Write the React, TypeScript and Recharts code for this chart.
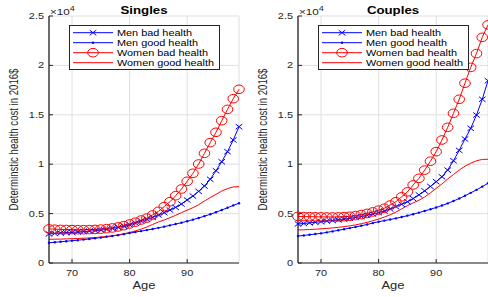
import React from "react";
import { CartesianGrid, Legend, Line, LineChart, XAxis, YAxis } from "recharts";

// ages on the x axis
const AGES = [66, 67, 68, 69, 70, 71, 72, 73, 74, 75, 76, 77, 78, 79, 80, 81, 82, 83, 84, 85, 86, 87, 88, 89, 90, 91, 92, 93, 94, 95, 96, 97, 98, 99];

// Singles, 2016$
const SINGLES_MEN_BAD = [2950, 2990, 3030, 3070, 3100, 3140, 3180, 3220, 3270, 3330, 3400, 3490, 3600, 3720, 3860, 4040, 4250, 4420, 4620, 4860, 5090, 5360, 5630, 5970, 6380, 6780, 7250, 7790, 8470, 9340, 10250, 11270, 12450, 13800];
const SINGLES_MEN_GOOD = [2050, 2100, 2150, 2200, 2260, 2310, 2370, 2430, 2500, 2570, 2650, 2730, 2820, 2920, 3030, 3130, 3230, 3330, 3440, 3560, 3680, 3810, 3940, 4080, 4230, 4390, 4560, 4740, 4930, 5140, 5360, 5590, 5830, 6050];
const SINGLES_WOMEN_BAD = [3450, 3420, 3400, 3390, 3380, 3370, 3370, 3380, 3400, 3430, 3480, 3550, 3650, 3780, 3950, 4130, 4350, 4550, 4860, 5230, 5700, 6200, 6810, 7490, 8270, 9080, 10020, 11100, 12180, 13230, 14400, 15550, 16630, 17580];
const SINGLES_WOMEN_GOOD = [2400, 2410, 2420, 2440, 2460, 2480, 2510, 2540, 2580, 2630, 2690, 2760, 2850, 2960, 3090, 3250, 3430, 3650, 3900, 4150, 4350, 4580, 4830, 5100, 5350, 5600, 5900, 6280, 6620, 6950, 7280, 7530, 7700, 7730];

// Couples, 2016$
const COUPLES_MEN_BAD = [3950, 4000, 4060, 4120, 4180, 4240, 4300, 4370, 4440, 4520, 4610, 4710, 4830, 4960, 5100, 5260, 5470, 5700, 5940, 6200, 6520, 6900, 7300, 7750, 8230, 8730, 9400, 10350, 11400, 12550, 13630, 14980, 16570, 18450];
const COUPLES_MEN_GOOD = [2730, 2790, 2860, 2930, 3000, 3100, 3200, 3310, 3420, 3530, 3650, 3770, 3900, 4040, 4180, 4290, 4400, 4520, 4650, 4790, 4940, 5100, 5270, 5440, 5620, 5820, 6030, 6270, 6530, 6800, 7100, 7400, 7730, 8070];
const COUPLES_WOMEN_BAD = [4720, 4700, 4690, 4680, 4670, 4660, 4660, 4670, 4690, 4730, 4800, 4900, 5020, 5170, 5350, 5540, 5870, 6200, 6700, 7200, 7900, 8570, 9400, 10300, 11270, 12450, 13730, 15150, 16570, 18200, 19800, 21200, 22840, 24100];
const COUPLES_WOMEN_GOOD = [3340, 3360, 3390, 3420, 3460, 3500, 3550, 3610, 3680, 3760, 3860, 3980, 4110, 4270, 4450, 4650, 4880, 5150, 5480, 5800, 6080, 6350, 6680, 7100, 7550, 8000, 8500, 8950, 9400, 9800, 10100, 10350, 10480, 10500];

const X_TICKS = [70, 80, 90];
const Y_TICKS = [0, 5000, 10000, 15000, 20000, 25000];
const SERIES_NAMES = ["Men bad health", "Men good health", "Women bad health", "Women good health"];

const BLUE = "#0000ff";
const RED = "#ff0000";
const INK = "#262626";
const GRID = "#dfdfdf";
const FONT = "'Liberation Sans', Arial, Helvetica, sans-serif";
const SX = 1.3; // the figure is stretched sideways
// legend label widths in px (stretched)
const LEGEND_TEXT_W = [75, 81, 91, 97];

function XTick(props: any) {
  const { x, y, payload } = props;
  return (
    <g>
      <line x1={x} y1={y} x2={x} y2={y - 4} stroke={INK} />
      <text transform={`translate(${x},${y + 12.8}) scale(${SX},1)`} textAnchor="middle" fontSize={8.4} fill={INK} fontFamily={FONT}>
        {payload.value}
      </text>
    </g>
  );
}

function YTick(props: any) {
  const { x, y, payload } = props;
  return (
    <g>
      <line x1={x} y1={y} x2={x + 4} y2={y} stroke={INK} />
      <text transform={`translate(${x - 5},${y + 3}) scale(${SX},1)`} textAnchor="end" fontSize={8.4} fill={INK} fontFamily={FONT}>
        {payload.value / 10000}
      </text>
    </g>
  );
}

function xMark(cx: number, cy: number, key?: any) {
  return (
    <path
      key={key}
      d={`M${cx - 3.3},${cy - 2.6}L${cx + 3.3},${cy + 2.6}M${cx - 3.3},${cy + 2.6}L${cx + 3.3},${cy - 2.6}`}
      stroke={BLUE}
      strokeWidth={1}
      fill="none"
    />
  );
}

function oMark(cx: number, cy: number, key?: any) {
  return <ellipse key={key} cx={cx} cy={cy} rx={5.3} ry={4.3} fill="none" stroke={RED} strokeWidth={1} />;
}

function dotMark(cx: number, cy: number, key?: any) {
  return <circle key={key} cx={cx} cy={cy} r={1.2} fill={BLUE} />;
}

const renderX = (p: any) => (p.cx == null ? <g key={p.index} /> : xMark(p.cx, p.cy, p.index));
const renderO = (p: any) => (p.cx == null ? <g key={p.index} /> : oMark(p.cx, p.cy, p.index));
const renderDot = (p: any) => (p.cx == null ? <g key={p.index} /> : dotMark(p.cx, p.cy, p.index));

function LegendBox() {
  const rows = [
    { color: BLUE, mark: xMark },
    { color: BLUE, mark: dotMark },
    { color: RED, mark: oMark },
    { color: RED, mark: null },
  ];
  return (
    <svg width={151} height={45} style={{ display: "block", overflow: "visible" }}>
      <rect x={0.5} y={0.5} width={150} height={44} fill="#fff" stroke={INK} />
      {rows.map((r, i) => {
        const cy = 7.7 + i * 10;
        return (
          <g key={SERIES_NAMES[i]}>
            <line x1={4} x2={44} y1={cy} y2={cy} stroke={r.color} />
            {r.mark && r.mark(24, cy)}
            <text
              x={48}
              y={cy + 3.1}
              textLength={LEGEND_TEXT_W[i]}
              lengthAdjust="spacingAndGlyphs"
              fontSize={8.6}
              fill="#000"
              fontFamily={FONT}
            >
              {SERIES_NAMES[i]}
            </text>
          </g>
        );
      })}
    </svg>
  );
}

function Panel({
  title,
  left,
  menBad,
  menGood,
  womenBad,
  womenGood,
}: {
  title: string;
  left: number;
  menBad: number[];
  menGood: number[];
  womenBad: number[];
  womenGood: number[];
}) {
  const data = AGES.map((age, i) => ({
    age,
    menBad: menBad[i],
    menGood: menGood[i],
    womenBad: womenBad[i],
    womenGood: womenGood[i],
  }));

  return (
    <div style={{ position: "absolute", left, top: 0, width: 245, height: 297 }}>
      <LineChart width={245} height={297} data={data} margin={{ top: 16, right: 6, bottom: 0, left: 0 }}>
        <CartesianGrid xAxisId="b" yAxisId="l" stroke={GRID} />
        <XAxis
          xAxisId="b"
          dataKey="age"
          type="number"
          domain={[66, 99]}
          ticks={X_TICKS}
          interval={0}
          height={34}
          tickSize={0}
          tickMargin={0}
          tickLine={false}
          axisLine={{ stroke: INK }}
          tick={<XTick />}
        />
        <XAxis
          xAxisId="t"
          orientation="top"
          mirror
          dataKey="age"
          type="number"
          domain={[66, 99]}
          ticks={X_TICKS}
          interval={0}
          height={0}
          tickSize={4}
          tickLine={{ stroke: INK }}
          axisLine={{ stroke: INK }}
          tick={false}
        />
        <YAxis
          yAxisId="l"
          type="number"
          domain={[0, 25000]}
          ticks={Y_TICKS}
          interval={0}
          width={49}
          tickSize={0}
          tickMargin={0}
          tickLine={false}
          axisLine={{ stroke: INK, strokeWidth: 1.3 }}
          tick={<YTick />}
        />
        <YAxis
          yAxisId="r"
          orientation="right"
          mirror
          type="number"
          domain={[0, 25000]}
          ticks={Y_TICKS}
          interval={0}
          width={0}
          tickSize={4}
          tickLine={{ stroke: INK }}
          axisLine={{ stroke: INK, strokeWidth: 1.3 }}
          tick={false}
        />
        <Line xAxisId="b" yAxisId="l" dataKey="menBad" name={SERIES_NAMES[0]} stroke={BLUE} strokeWidth={1} dot={renderX} activeDot={false} isAnimationActive={false} />
        <Line xAxisId="b" yAxisId="l" dataKey="menGood" name={SERIES_NAMES[1]} stroke={BLUE} strokeWidth={1} dot={renderDot} activeDot={false} isAnimationActive={false} />
        <Line xAxisId="b" yAxisId="l" dataKey="womenBad" name={SERIES_NAMES[2]} stroke={RED} strokeWidth={1} dot={renderO} activeDot={false} isAnimationActive={false} />
        <Line xAxisId="b" yAxisId="l" dataKey="womenGood" name={SERIES_NAMES[3]} stroke={RED} strokeWidth={1} dot={false} activeDot={false} isAnimationActive={false} />
        <Legend
          layout="vertical"
          align="center"
          verticalAlign="middle"
          wrapperStyle={{ left: 69, top: 25, width: 151, height: 45 }}
          content={() => <LegendBox />}
        />
      </LineChart>
      <svg width={245} height={297} style={{ position: "absolute", left: 0, top: 0, pointerEvents: "none", overflow: "visible" }}>
        <text transform={`translate(144,13.5) scale(${SX},1)`} textAnchor="middle" fontSize={10.2} fontWeight="bold" fill="#000" fontFamily={FONT}>
          {title}
        </text>
        <text transform={`translate(50,15) scale(${SX},1)`} fontSize={9} fill={INK} fontFamily={FONT}>
          ×10
          <tspan dy={-4.5} fontSize={7}>
            4
          </tspan>
        </text>
        <text transform={`translate(18,139.5) scale(${SX},1) rotate(-90)`} textAnchor="middle" fontSize={9.6} fill={INK} fontFamily={FONT}>
          Determinstic health cost in 2016$
        </text>
        <text transform={`translate(144,288.6) scale(${SX},1)`} textAnchor="middle" fontSize={10} fill={INK} fontFamily={FONT}>
          Age
        </text>
      </svg>
    </div>
  );
}

export default function App() {
  return (
    <div style={{ position: "absolute", left: 0, top: 0, width: 488, height: 297, overflow: "hidden", background: "#fff" }}>
      <Panel
        title="Singles"
        left={0}
        menBad={SINGLES_MEN_BAD}
        menGood={SINGLES_MEN_GOOD}
        womenBad={SINGLES_WOMEN_BAD}
        womenGood={SINGLES_WOMEN_GOOD}
      />
      <Panel
        title="Couples"
        left={249}
        menBad={COUPLES_MEN_BAD}
        menGood={COUPLES_MEN_GOOD}
        womenBad={COUPLES_WOMEN_BAD}
        womenGood={COUPLES_WOMEN_GOOD}
      />
    </div>
  );
}
